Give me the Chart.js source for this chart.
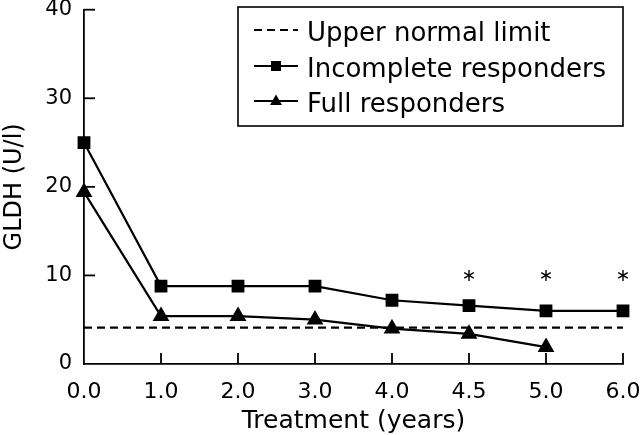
<!DOCTYPE html>
<html>
<head>
<meta charset="utf-8">
<script src="https://cdn.jsdelivr.net/npm/chart.js@4/dist/chart.umd.min.js"></script>
<style>
html,body{margin:0;padding:0;background:#fff}
</style>
</head>
<body>
<canvas id="myChart" width="640" height="435"></canvas>
<script>
// data
const years = ['0.0', '1.0', '2.0', '3.0', '4.0', '4.5', '5.0', '6.0'];
const upperLimit = [4.1, 4.1, 4.1, 4.1, 4.1, 4.1, 4.1, 4.1];
const incomplete = [25, 8.8, 8.8, 8.8, 7.2, 6.6, 6.0, 6.0];
const full = [19.4, 5.4, 5.4, 5.0, 4.0, 3.4, 1.9, null];
const signifMarks = [null, null, null, null, null, 10, 10, 10];
const yTicks = [0, 10, 20, 30, 40];

const FONT = "'DejaVu Sans', sans-serif";

// inward ticks on both axes, the asterisks and the boxed legend
const extras = {
  id: 'extras',
  afterDraw(chart) {
    const ctx = chart.ctx;
    const x = chart.scales.x, y = chart.scales.y;
    const area = chart.chartArea;
    ctx.save();
    ctx.strokeStyle = '#000';
    ctx.lineWidth = 1.8;
    years.forEach((lab, i) => {
      if (i === 0) return;
      const px = x.getPixelForValue(i);
      ctx.beginPath();
      ctx.moveTo(px, area.bottom);
      ctx.lineTo(px, area.bottom - 11);
      ctx.stroke();
    });
    yTicks.forEach(v => {
      if (v === 0) return;
      const py = y.getPixelForValue(v);
      ctx.beginPath();
      ctx.moveTo(area.left, py);
      ctx.lineTo(area.left + 11, py);
      ctx.stroke();
    });
    // asterisks
    ctx.lineWidth = 1.4;
    signifMarks.forEach((v, i) => {
      if (v == null) return;
      const cx = x.getPixelForValue(i), cy = y.getPixelForValue(v);
      const r = 5.5;
      for (let k = 0; k < 3; k++) {
        const a = Math.PI / 2 + k * Math.PI / 3;
        ctx.beginPath();
        ctx.moveTo(cx + r * Math.cos(a), cy - r * Math.sin(a));
        ctx.lineTo(cx - r * Math.cos(a), cy + r * Math.sin(a));
        ctx.stroke();
      }
    });
    // legend
    const lx = 238, ly = 7, lw = 385, lh = 119;
    ctx.fillStyle = '#fff';
    ctx.fillRect(lx, ly, lw, lh);
    ctx.lineWidth = 1.6;
    ctx.strokeRect(lx, ly, lw, lh);
    const baselines = [41, 77, 112];
    ctx.font = '26px ' + FONT;
    ctx.fillStyle = '#000';
    ctx.textBaseline = 'alphabetic';
    chart.data.datasets.slice(0, 3).forEach((ds, i) => {
      const ry = baselines[i] - 11;
      ctx.lineWidth = ds.borderWidth;
      ctx.setLineDash(ds.borderDash || []);
      ctx.beginPath();
      ctx.moveTo(254, ry);
      ctx.lineTo(298, ry);
      ctx.stroke();
      ctx.setLineDash([]);
      const mx = 276;
      if (ds.pointStyle === 'rect') {
        ctx.fillRect(mx - 5, ry - 5, 10, 10);
      } else if (ds.pointStyle === 'triangle') {
        ctx.beginPath();
        ctx.moveTo(mx, ry - 6.5);
        ctx.lineTo(mx + 6, ry + 4);
        ctx.lineTo(mx - 6, ry + 4);
        ctx.closePath();
        ctx.fill();
      }
      ctx.fillText(ds.label, 307, baselines[i]);
    });
    ctx.restore();
  }
};

new Chart(document.getElementById('myChart').getContext('2d'), {
  type: 'line',
  data: {
    labels: years,
    datasets: [
      {
        label: 'Upper normal limit',
        data: upperLimit,
        borderColor: '#000',
        borderWidth: 2.2,
        borderDash: [8, 5],
        pointRadius: 0,
        fill: false
      },
      {
        label: 'Incomplete responders',
        data: incomplete,
        borderColor: '#000',
        backgroundColor: '#000',
        borderWidth: 2.2,
        pointStyle: 'rect',
        pointRadius: 7.5,
        fill: false
      },
      {
        label: 'Full responders',
        data: full,
        borderColor: '#000',
        backgroundColor: '#000',
        borderWidth: 2.2,
        pointStyle: 'triangle',
        pointRadius: 7.5,
        fill: false
      }
    ]
  },
  options: {
    responsive: false,
    animation: false,
    layout: { padding: { top: 9, right: 17, left: 0, bottom: 0 } },
    plugins: {
      legend: { display: false },
      tooltip: { enabled: false }
    },
    scales: {
      x: {
        offset: false,
        grid: { display: false, drawTicks: false },
        border: { display: true, color: '#000', width: 1.8 },
        ticks: { color: '#000', font: { family: FONT, size: 22 }, padding: 15, maxRotation: 0, autoSkip: false },
        title: { display: true, text: 'Treatment (years)', color: '#000', font: { family: FONT, size: 25, lineHeight: 1.0 }, padding: { top: 0, bottom: 1 } },
        afterFit(scale) {
          scale.height = 71;
          scale.paddingLeft = 0;
          scale.paddingRight = 0;
        }
      },
      y: {
        min: 0,
        max: 40,
        afterBuildTicks(scale) { scale.ticks = yTicks.map(v => ({ value: v })); },
        grid: { display: false, drawTicks: false },
        border: { display: true, color: '#000', width: 1.8 },
        ticks: { color: '#000', font: { family: FONT, size: 21 }, padding: 12 },
        title: { display: true, text: 'GLDH (U/l)', color: '#000', font: { family: FONT, size: 24 }, padding: { top: 0, bottom: 0 } },
        afterFit(scale) {
          scale.width = 84;
          scale.paddingTop = 0;
          scale.paddingBottom = 0;
        }
      }
    }
  },
  plugins: [extras]
});
</script>
</body>
</html>
